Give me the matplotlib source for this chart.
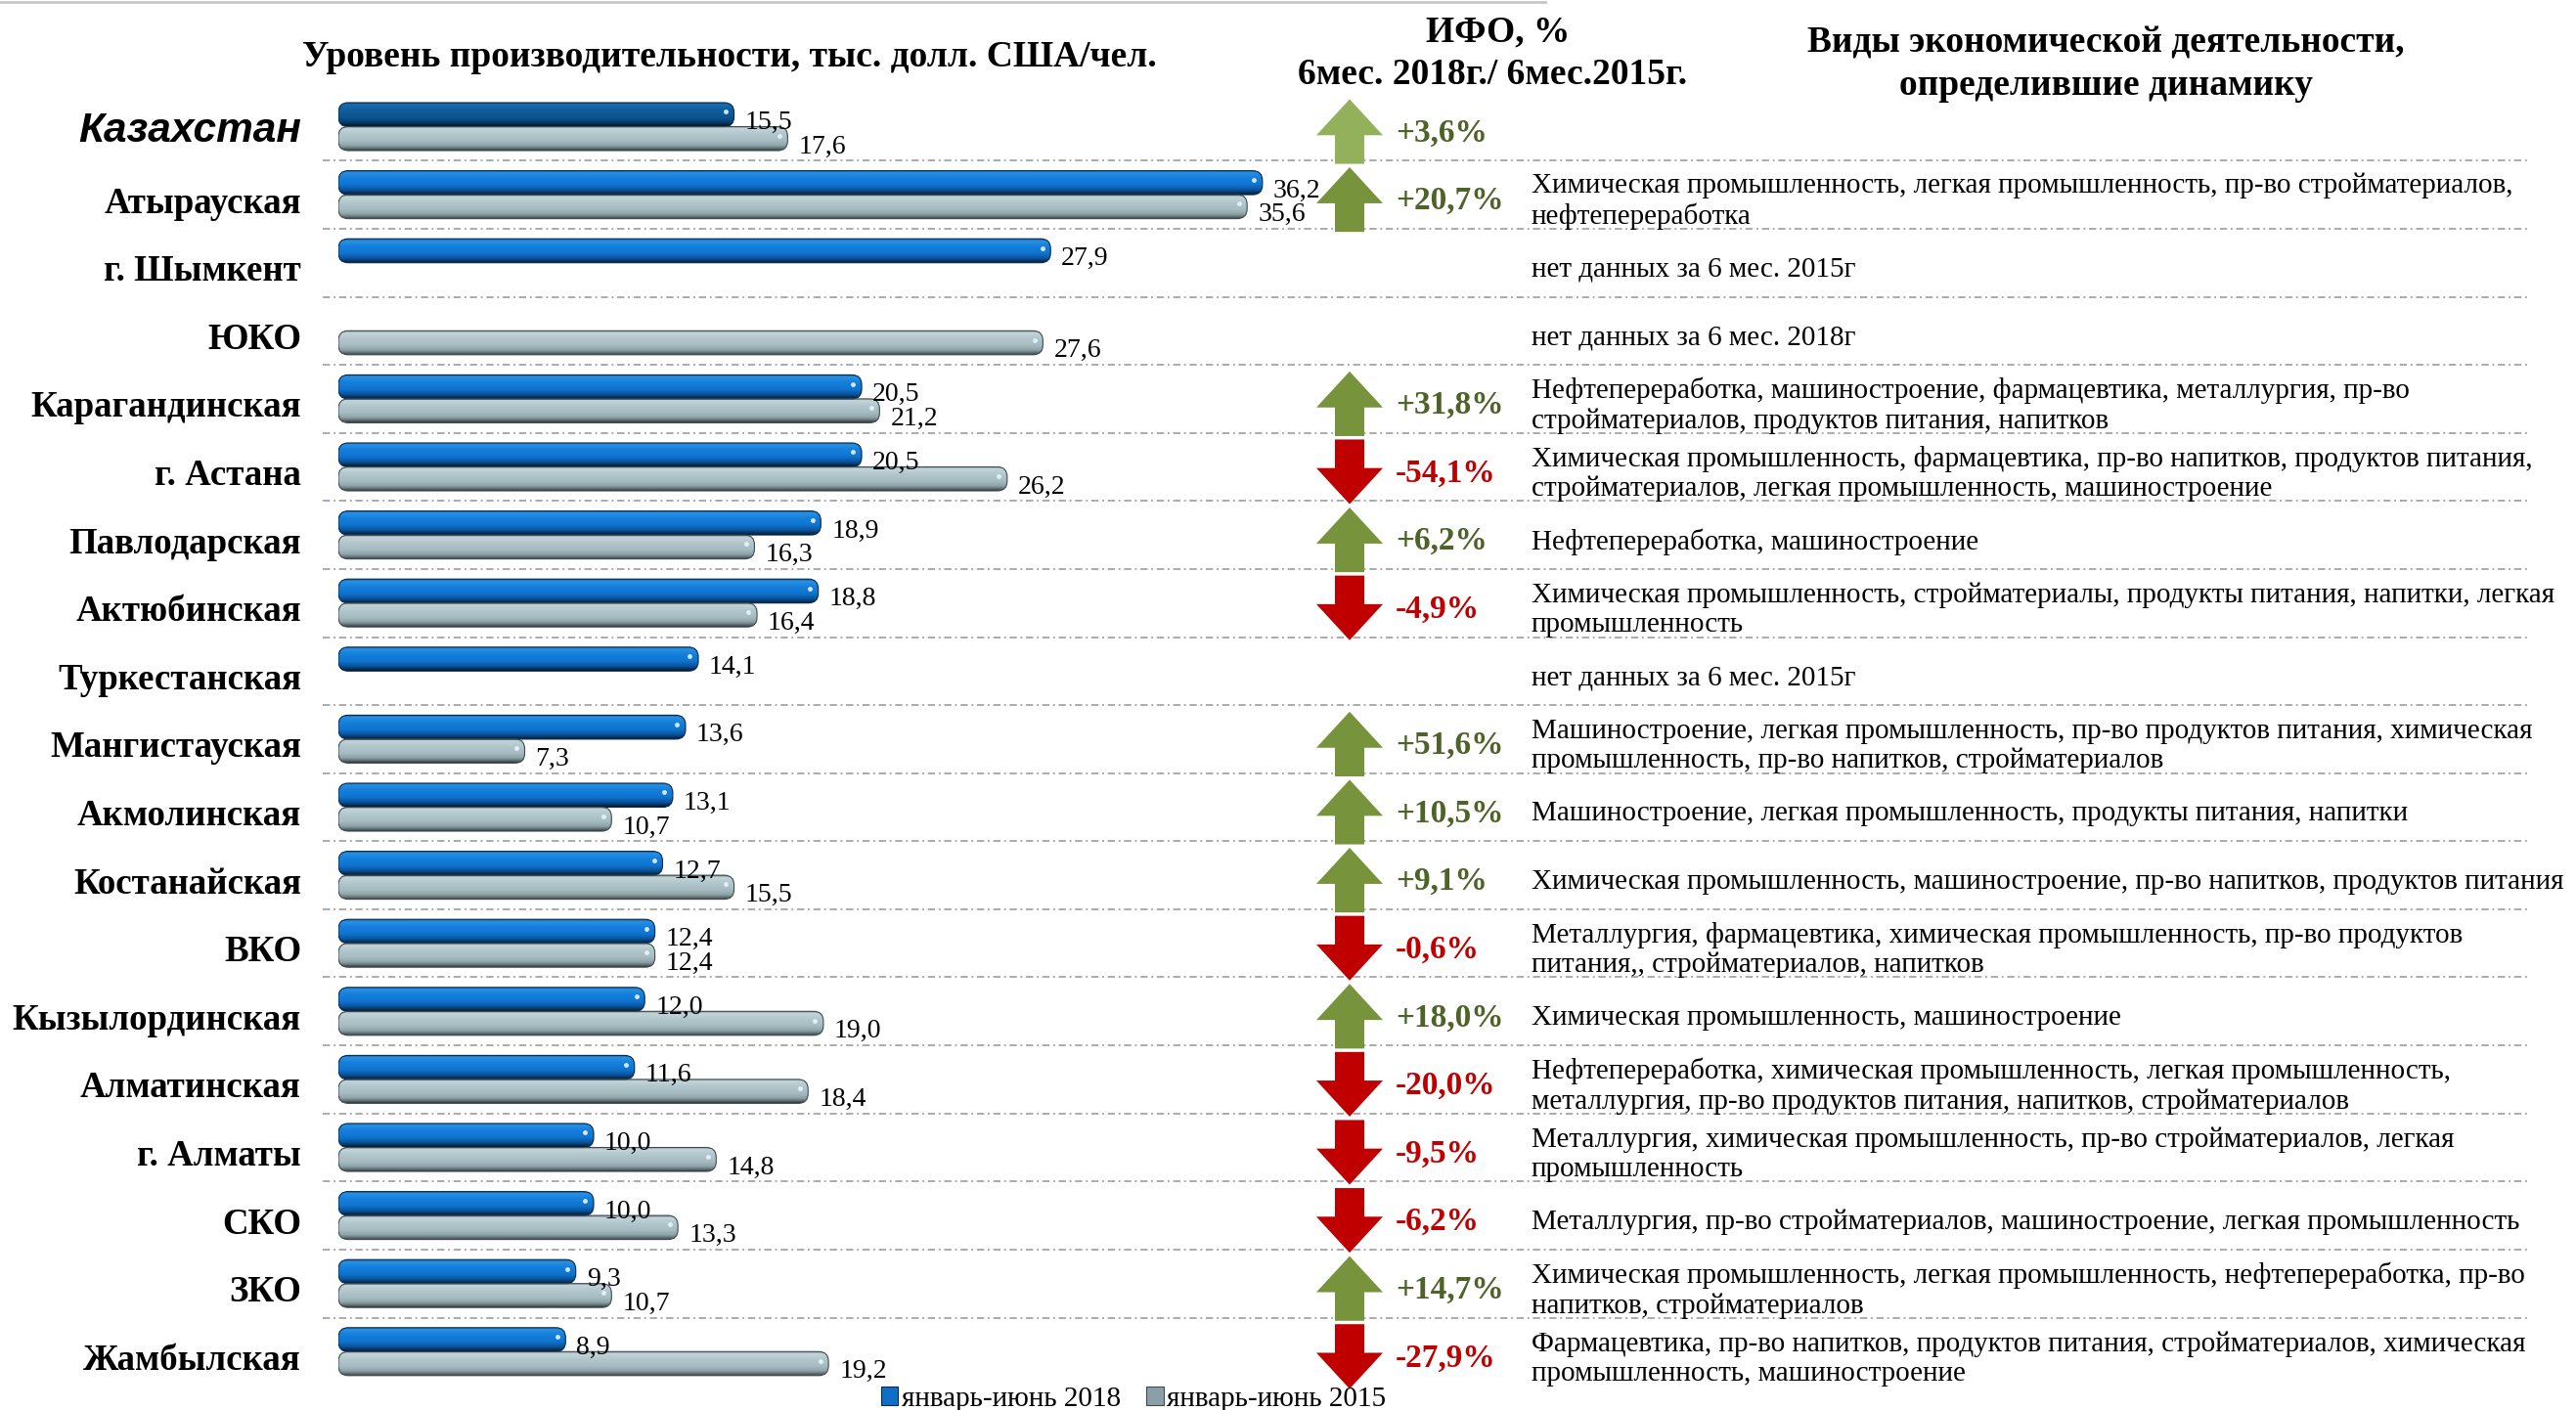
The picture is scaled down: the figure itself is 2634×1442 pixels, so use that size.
import matplotlib
matplotlib.use('Agg')
import matplotlib.pyplot as plt
import numpy as np
from matplotlib.patches import FancyBboxPatch, Polygon, Patch
from matplotlib.colors import LinearSegmentedColormap

'''
Data
'''
nan = np.nan
regions = ['Казахстан', 'Атырауская', 'г. Шымкент', 'ЮКО', 'Карагандинская',
           'г. Астана', 'Павлодарская', 'Актюбинская', 'Туркестанская',
           'Мангистауская', 'Акмолинская', 'Костанайская', 'ВКО',
           'Кызылординская', 'Алматинская', 'г. Алматы', 'СКО', 'ЗКО',
           'Жамбылская']
v2018 = [15.5, 36.2, 27.9, nan, 20.5, 20.5, 18.9, 18.8, 14.1, 13.6,
         13.1, 12.7, 12.4, 12.0, 11.6, 10.0, 10.0, 9.3, 8.9]
v2015 = [17.6, 35.6, nan, 27.6, 21.2, 26.2, 16.3, 16.4, nan, 7.3,
         10.7, 15.5, 12.4, 19.0, 18.4, 14.8, 13.3, 10.7, 19.2]
ifo = [3.6, 20.7, nan, nan, 31.8, -54.1, 6.2, -4.9, nan, 51.6,
       10.5, 9.1, -0.6, 18.0, -20.0, -9.5, -6.2, 14.7, -27.9]
desc = [
    '',
    'Химическая промышленность, легкая промышленность, пр-во стройматериалов,\nнефтепереработка',
    'нет данных за 6 мес. 2015г',
    'нет данных за 6 мес. 2018г',
    'Нефтепереработка, машиностроение, фармацевтика, металлургия, пр-во\nстройматериалов, продуктов питания, напитков',
    'Химическая промышленность, фармацевтика, пр-во напитков, продуктов питания,\nстройматериалов, легкая промышленность, машиностроение',
    'Нефтепереработка, машиностроение',
    'Химическая промышленность, стройматериалы, продукты питания, напитки, легкая\nпромышленность',
    'нет данных за 6 мес. 2015г',
    'Машиностроение, легкая промышленность, пр-во продуктов питания, химическая\nпромышленность, пр-во напитков, стройматериалов',
    'Машиностроение, легкая промышленность, продукты питания, напитки',
    'Химическая промышленность, машиностроение, пр-во напитков, продуктов питания',
    'Металлургия, фармацевтика, химическая промышленность, пр-во продуктов\nпитания,, стройматериалов, напитков',
    'Химическая промышленность, машиностроение',
    'Нефтепереработка, химическая промышленность, легкая промышленность,\nметаллургия, пр-во продуктов питания, напитков, стройматериалов',
    'Металлургия, химическая промышленность, пр-во стройматериалов, легкая\nпромышленность',
    'Металлургия, пр-во стройматериалов, машиностроение, легкая промышленность',
    'Химическая промышленность, легкая промышленность, нефтепереработка, пр-во\nнапитков, стройматериалов',
    'Фармацевтика, пр-во напитков, продуктов питания, стройматериалов, химическая\nпромышленность, машиностроение',
]
series_names = ['январь-июнь 2018', 'январь-июнь 2015']

title_bars = 'Уровень производительности, тыс. долл. США/чел.'
title_ifo = 'ИФО, %\n6мес. 2018г./ 6мес.2015г.'
title_desc = 'Виды экономической деятельности,\nопределившие динамику'

'''
Layout
'''
W, H = 2634, 1442
row0, rowh = 129.5, 69.6          # px of first row centre, px per row
px_unit = 26.1                    # px per thousand USD
bar_x0, bar_w = 346, 994
serif = 'Liberation Serif'

def fx(px):
    return px / W

def fy(py):
    return 1 - py / H

plt.rcParams['font.family'] = [serif, 'DejaVu Sans']

fig = plt.figure(figsize=(W / 100, H / 100), dpi=100)
fig.patch.set_facecolor('white')

ylim = ((H - row0) / rowh, -row0 / rowh)

ax = fig.add_axes([fx(bar_x0), 0, bar_w / W, 1])
ax.set_axis_off()

# overlay axes: x in pixels, y in rows (same as bar axes)
ov = fig.add_axes([0, 0, 1, 1])
ov.set_axis_off()
ov.patch.set_alpha(0)

rows = np.arange(len(regions))
bh = 0.352

b18 = ax.barh(rows - bh / 2, v2018, height=bh)
b15 = ax.barh(rows + bh / 2, v2015, height=bh)

blue = LinearSegmentedColormap.from_list('b', [
    (0.0, '#0b4f8c'), (0.08, '#2b90e2'), (0.3, '#1580dc'), (0.6, '#0f74cf'),
    (0.8, '#0b55a0'), (0.92, '#083564'), (1.0, '#05182c')])
blue_kz = LinearSegmentedColormap.from_list('bk', [
    (0.0, '#083d6c'), (0.08, '#1c6cab'), (0.3, '#0f609f'), (0.6, '#0b5692'),
    (0.8, '#09457a'), (0.92, '#062b50'), (1.0, '#03152a')])
grey = LinearSegmentedColormap.from_list('g', [
    (0.0, '#6e7f84'), (0.08, '#c3d5d9'), (0.3, '#b3c8cd'), (0.6, '#a6bcc2'),
    (0.8, '#8ea3a8'), (0.92, '#5e6d71'), (1.0, '#2e383b')])
grad = np.linspace(0, 1, 80).reshape(-1, 1)
rad = 10 / px_unit
asp = px_unit / rowh

def draw_bar(p, cmap, edge):
    x, y, w, h = p.get_x(), p.get_y(), p.get_width(), p.get_height()
    p.set_visible(False)
    if not np.isfinite(w):
        return
    box = FancyBboxPatch((x, y), w, h,
                         boxstyle='round,pad=0,rounding_size=%.3f' % rad,
                         mutation_aspect=asp, facecolor='none',
                         edgecolor=edge, lw=0.8, zorder=3)
    ax.add_patch(box)
    im = ax.imshow(grad, cmap=cmap, extent=(x, x + w, y + h, y),
                   aspect='auto', interpolation='bilinear', zorder=2)
    im.set_clip_path(box)
    # small glare at the round end
    ax.plot(x + w - 0.33, y + h * 0.38, 'o', ms=3.5, mfc='#e8f4ff',
            mec='none', alpha=0.9, zorder=4)

for k, p in enumerate(b18):
    draw_bar(p, blue_kz if k == 0 else blue, '#06284a')
for p in b15:
    draw_bar(p, grey, '#3d4a4e')

def fmt(v):
    return ('%.1f' % v).replace('.', ',')

for k in rows:
    if np.isfinite(v2018[k]):
        ax.text(v2018[k] + 11 / px_unit, k - bh / 2 + 14.7 / rowh, fmt(v2018[k]),
                fontsize=20, va='baseline', ha='left', color='black')
    if np.isfinite(v2015[k]):
        ax.text(v2015[k] + 11 / px_unit, k + bh / 2 + 14.7 / rowh, fmt(v2015[k]),
                fontsize=20, va='baseline', ha='left', color='black')

ax.set_xlim(0, bar_w / px_unit)
ax.set_ylim(*ylim)

'''
Row labels, separators, arrows, texts
'''
ov.set_xlim(0, W)
ov.set_ylim(*ylim)

for k, name in enumerate(regions):
    if k == 0:
        ov.text(308, k + 15.5 / rowh, name, ha='right', va='baseline',
                fontsize=30.5, fontweight='bold', fontstyle='italic',
                family='Liberation Sans')
    else:
        ov.text(308, k + 18.5 / rowh, name, ha='right', va='baseline',
                fontsize=26.6, fontweight='bold')

ov.hlines(rows[:-1] + 0.5, 330, 2585, colors='#ababab', lw=1.4,
          linestyles=[(0, (3.8, 1.9, 1.0, 1.9))], zorder=1)

arr_x = 1380
def arrow(k, up, color):
    yc = k + 5 / rowh
    half = 0.95 / 2
    head = 0.53
    if up:
        tip, base, tail = yc - half, yc - half + head, yc + half
    else:
        tip, base, tail = yc + half, yc + half - head, yc - half
    verts = [(arr_x, tip), (arr_x + 34, base), (arr_x + 15, base),
             (arr_x + 15, tail), (arr_x - 15, tail), (arr_x - 15, base),
             (arr_x - 34, base)]
    ov.add_patch(Polygon(verts, closed=True, facecolor=color,
                         edgecolor='none', zorder=3))

for k, v in enumerate(ifo):
    if not np.isfinite(v):
        continue
    if v > 0:
        arrow(k, True, '#93b05a' if k == 0 else '#77933c')
        tc = '#4f6228'
    else:
        arrow(k, False, '#c00000')
        tc = '#c00000'
    ov.text(1427, k + 15 / rowh, ('%+.1f%%' % v).replace('.', ','),
            fontsize=24, fontweight='bold', color=tc, va='baseline', ha='left')

for k, d in enumerate(desc):
    if d:
        ov.text(1566, k + 0.1, d, fontsize=21, va='center', ha='left',
                linespacing=1.2, color='black')

'''
Headers and legend
'''
fig.text(fx(746), fy(68), title_bars, ha='center', va='baseline',
         fontsize=27, fontweight='bold')
l1, l2 = title_ifo.split('\n')
fig.text(fx(1532), fy(42), l1, ha='center', va='baseline', fontsize=27,
         fontweight='bold')
fig.text(fx(1526), fy(86), l2, ha='center', va='baseline', fontsize=27,
         fontweight='bold')
d1, d2 = title_desc.split('\n')
fig.text(fx(2153), fy(54), d1, ha='center', va='baseline', fontsize=27,
         fontweight='bold')
fig.text(fx(2153), fy(97), d2, ha='center', va='baseline', fontsize=27,
         fontweight='bold')

fig.add_artist(plt.Line2D([0, fx(1580)], [fy(1.5), fy(1.5)],
                          transform=fig.transFigure, color='#c8c8c8', lw=2))

handles = [Patch(facecolor='#0f6fc6', edgecolor='#06284a', lw=0.8),
           Patch(facecolor='#8aa0a6', edgecolor='#3d4a4e', lw=0.8)]
fig.legend(handles, series_names, loc='center',
           bbox_to_anchor=(fx(1159), fy(1431)), ncol=2, frameon=False,
           fontsize=21, handlelength=0.6, handleheight=0.6,
           handletextpad=0.12, columnspacing=0.9, borderpad=0)

fig.savefig('out.png', dpi=100)
